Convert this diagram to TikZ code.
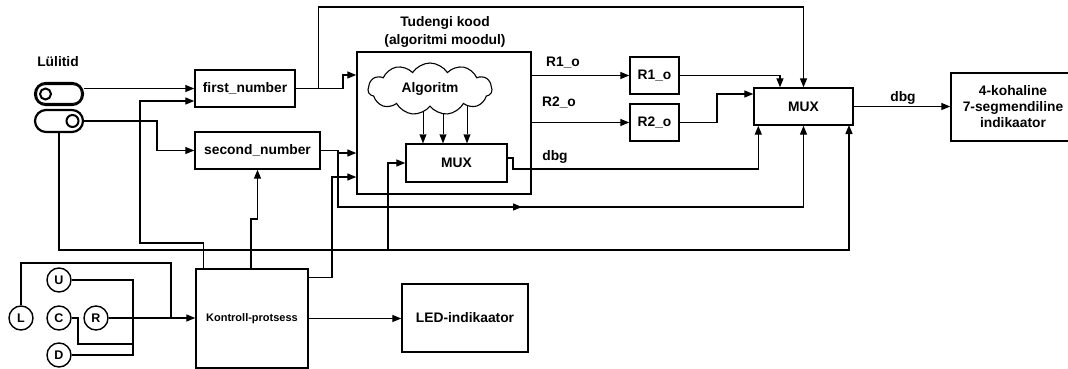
\documentclass[tikz,border=0pt]{standalone}
\usepackage{fontspec}
\setmainfont{Liberation Sans}
\usetikzlibrary{arrows.meta,shapes.symbols,backgrounds,calc}
\begin{document}
\begin{tikzpicture}[x=1pt,y=-1pt,line width=1.35pt,
  every node/.style={font=\fontsize{13.8}{16}\selectfont\bfseries},
  box/.style={draw,line width=1.4pt,inner sep=0pt,align=center},
  arr/.style={-{Triangle[length=9pt,width=7pt]}},
  btn/.style={draw,circle,line width=1.4pt,minimum size=24pt,inner sep=0pt,font=\fontsize{12.5}{14}\selectfont\bfseries},
  lbl/.style={inner sep=0pt},
  pill/.style={draw,rounded corners=11pt,line width=2.2pt,minimum width=48pt,minimum height=22pt,inner sep=0pt},
]
\useasboundingbox (0,0) rectangle (1068,369);

% --- nodes
\node[lbl] (lul) at (58,62) {Lülitid};
\node[pill] (sw1) at (59,94) {};
\node[pill] (sw2) at (59,121) {};
\draw[line width=1pt,rounded corners=8pt] ([shift={(2.8pt,-2.8pt)}]sw1.north west) rectangle ([shift={(-2.8pt,2.8pt)}]sw1.south east);
\node[draw,circle,line width=2pt,minimum size=11pt,inner sep=0pt] (sw1k) at (45.5,94) {};
\node[draw,circle,line width=2pt,minimum size=12pt,inner sep=0pt] (sw2k) at (72.5,121) {};

\node[box,minimum width=100pt,minimum height=37pt] (fn) at (245,88.5) {first\_number};
\node[box,minimum width=125pt,minimum height=37pt] (sn) at (257.5,150.5) {second\_number};

\node[lbl,align=center,font=\fontsize{13.8}{18}\selectfont\bfseries] (tkt) at (445,32) {Tudengi kood\\(algoritmi moodul)};
\node[box,minimum width=174pt,minimum height=142pt] (tk) at (444,123) {};
\node[box,minimum width=101pt,minimum height=38pt] (imux) at (456.5,163) {MUX};
\node[cloud,draw,fill=white,cloud puffs=11,cloud puff arc=115,aspect=2.4,
      minimum width=124pt,minimum height=52pt,inner sep=0pt,line width=1.1pt] (cloud) at (430,89) {Algoritm};

\node[box,minimum width=49pt,minimum height=37pt] (r1) at (654.5,75.5) {R1\_o};
\node[box,minimum width=49pt,minimum height=37pt] (r2) at (654.5,122.5) {R2\_o};
\node[box,minimum width=99pt,minimum height=37pt] (bmux) at (803.5,106.5) {MUX};
\node[box,minimum width=124pt,minimum height=68pt] (disp) at (1013,107) {4-kohaline\\7-segmendiline\\indikaator};

\node[box,minimum width=112pt,minimum height=99pt,font=\fontsize{11}{13}\selectfont\bfseries] (kp) at (252,318.5) {Kontroll-protsess};
\node[box,minimum width=126pt,minimum height=68pt] (led) at (465,318) {LED-indikaator};

\node[btn] (L) at (21,318) {L};
\node[btn] (U) at (59,280) {U};
\node[btn] (C) at (59,318) {C};
\node[btn] (R) at (96,318) {R};
\node[btn] (D) at (59,355) {D};

% --- labels
\node[lbl] (r1l) at (563,63) {R1\_o};
\node[lbl] (r2l) at (559,103) {R2\_o};
\node[lbl] (dbg1) at (555,157) {dbg};
\node[lbl] (dbg2) at (903,98) {dbg};

% --- connectors
\coordinate (fnj) at ([xshift=23pt]fn.east);
\draw[arr] (sw1.east |- fn.west) -- (fn.west);
\draw[arr] ([xshift=8pt]kp.north west) |- (140,243) |- ([yshift=-12.5pt]fn.west);
\draw[arr] (fn.east) -- (343,88.5) |- ([yshift=48pt]tk.west);
\draw[arr] (fnj) |- (803.5,7) -- (bmux.north);

\draw[arr] (sw2.east) -- (157,121) |- (sn.west);
\draw[arr] (sw2.south) |- (849,250) -- (849,125);
\draw[arr] (388,250) |- (imux.west);

\draw[arr] ([xshift=-1pt]kp.north) |- (257.5,219) -- (sn.south);
\draw[arr] ([yshift=-9pt]kp.north east) -| (332,177) -- ([yshift=-54pt]tk.west);

\draw (sn.east) -- (338,150.5) -- (338,153);
\draw[arr] (338,153) -- ([yshift=-30pt]tk.west);
\draw[arr] (338,153) |- (522,207);
\draw[arr] (517,207) -| (bmux.south);

\begin{scope}[on background layer]
\draw[arr] ([xshift=-7pt]cloud.center) -- ([xshift=-33.5pt]imux.north);
\draw[arr] ([xshift=13pt]cloud.center) -- ([xshift=-13.5pt]imux.north);
\draw[arr] ([xshift=37pt]cloud.center) -- ([xshift=10.5pt]imux.north);
\end{scope}

\draw[arr] ([yshift=5pt]imux.east) -| (513,169) -| ([xshift=5pt]bmux.south west);

\draw[arr] (tk.east |- r1.west) -- (r1.west);
\draw[arr] (tk.east |- r2.west) -- (r2.west);
\draw[arr] (r1.east) -| ([xshift=-23.5pt]bmux.north);
\draw[arr] (r2.east) -- (717,122.5) |- ([yshift=12.5pt]bmux.west);
\draw[arr] (bmux.east) -- (bmux.east -| disp.west);

\draw[arr] (kp.east) -- (kp.east -| led.west);
\draw[arr] (R.east) -- (R.east -| kp.west);
\draw (L.north) |- (171,263) -- (171,318);
\draw (U.east) -| (133,355) -- (D.east);
\draw (C.east) -| (78,344) -- (133,344);
\end{tikzpicture}
\end{document}
